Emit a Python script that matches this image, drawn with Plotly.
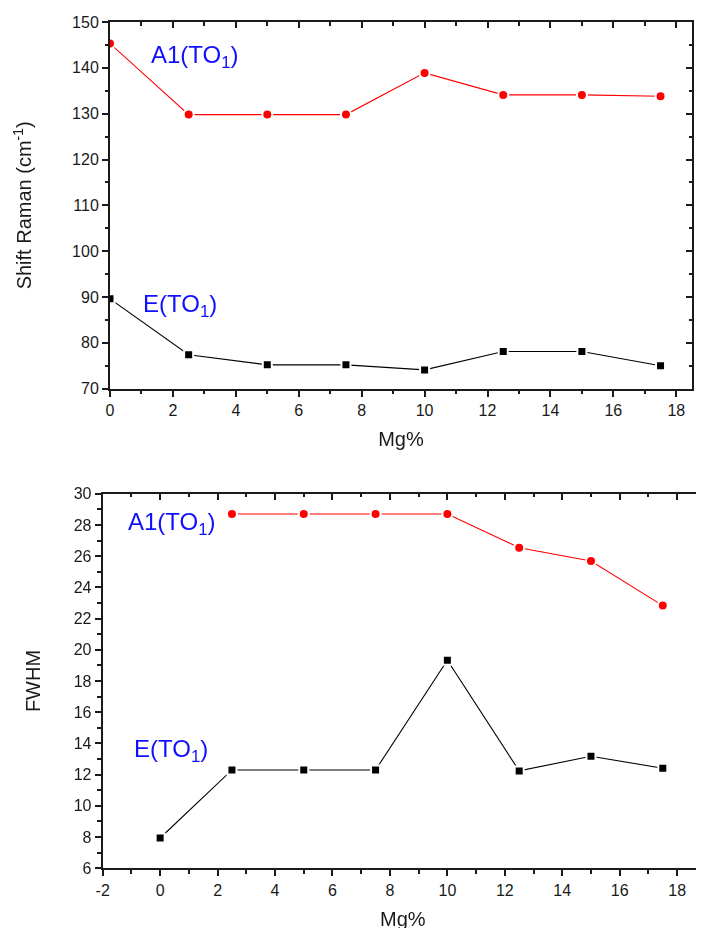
import plotly.graph_objects as go

mg = [0, 2.5, 5, 7.5, 10, 12.5, 15, 17.5]
shift_a1 = [145.3, 129.8, 129.8, 129.8, 138.9, 134.1, 134.1, 133.8]
shift_e = [89.6, 77.4, 75.2, 75.2, 74.1, 78.1, 78.1, 75.0]
mg_fwhm_a1 = [2.5, 5, 7.5, 10, 12.5, 15, 17.5]
fwhm_a1 = [28.7, 28.7, 28.7, 28.7, 26.54, 25.69, 22.83]
fwhm_e = [7.94, 12.3, 12.3, 12.3, 19.33, 12.24, 13.18, 12.41]

bottom_x_ticks = [-2, 0, 2, 4, 6, 8, 10, 12, 14, 16, 18]
bottom_x_labels = ["-2", "0", "2", "4", "6", "8", "10", "12", "14", "16", "18"]

FONT = "Liberation Sans, Arial, sans-serif"
AX = "#1a1a1a"
BLUE = "#1010ff"

fig = go.Figure()

def add(x, y, color, symbol, xa, ya):
    fig.add_trace(go.Scatter(
        x=x, y=y, mode="lines+markers", xaxis=xa, yaxis=ya,
        line=dict(color=color, width=1.1),
        marker=dict(color=color, symbol=symbol, size=10 if symbol == "circle" else 9,
                    line=dict(color="white", width=2)),
        showlegend=False, hoverinfo="skip"))

add(mg, shift_a1, "#ff0000", "circle", "x", "y")
add(mg, shift_e, "#000000", "square", "x", "y")
add(mg_fwhm_a1, fwhm_a1, "#ff0000", "circle", "x2", "y2")
add(mg, fwhm_e, "#000000", "square", "x2", "y2")

W, H, OFF = 704, 928, 8
top_x = [(110-OFF)/W, (692-OFF)/W]
top_y = [1-(388.7-OFF)/H, 1-(22-OFF)/H]
bot_x = [(102.7-OFF)/W, (703-OFF)/W]
bot_y = [1-(868.3-OFF)/H, 1-(493.7-OFF)/H]

tickfont = dict(family=FONT, size=16, color=AX)
titlefont = dict(family=FONT, size=20, color=AX)

def minor(kind):
    return dict(ticks=kind, ticklen=3.5, tickwidth=1.5, tickcolor=AX)

def base_axis(**kw):
    d = dict(showline=True, linecolor=AX, linewidth=2, ticks="outside",
             ticklen=6, tickwidth=1.5, tickcolor=AX, showgrid=False,
             zeroline=False, tickfont=tickfont, automargin=False)
    d.update(kw)
    return d

def mirror_axis(**kw):
    d = dict(showline=True, linecolor=AX, linewidth=2, ticks="inside",
             ticklen=6, tickwidth=1.5, tickcolor=AX, showgrid=False,
             zeroline=False, showticklabels=False, automargin=False)
    d.update(kw)
    return d

mt = minor("outside")
mi = minor("inside")

fig.update_layout(
    width=W, height=H, margin=dict(l=0, r=0, t=0, b=0),
    plot_bgcolor="white", paper_bgcolor="white",
    xaxis=base_axis(domain=top_x, anchor="y", range=[0, 18.5], dtick=2, tick0=0,
                    minor=dict(dtick=1, **mt),
                    title=dict(text="Mg%", font=titlefont, standoff=14)),
    yaxis=base_axis(domain=top_y, anchor="x", range=[70, 150], dtick=10,
                    minor=dict(dtick=5, **mt),
                    title=dict(text="Shift Raman (cm<sup>-1</sup>)", font=titlefont, standoff=35)),
    xaxis3=mirror_axis(domain=top_x, anchor="y", overlaying="x", side="top",
                       range=[0, 18.5], dtick=2, tick0=0, minor=dict(dtick=1, **mi)),
    yaxis3=mirror_axis(domain=top_y, anchor="x", overlaying="y", side="right",
                       range=[70, 150], dtick=10, minor=dict(dtick=5, **mi)),
    xaxis2=base_axis(domain=bot_x, anchor="y2", range=[-2, 18.9],
                     tickmode="array", tickvals=bottom_x_ticks, ticktext=bottom_x_labels,
                     minor=dict(dtick=1, tick0=0, **mt),
                     title=dict(text="Mg%", font=titlefont, standoff=14)),
    yaxis2=base_axis(domain=bot_y, anchor="x2", range=[6, 30], dtick=2,
                     minor=dict(dtick=1, **mt),
                     title=dict(text="FWHM", font=titlefont, standoff=28)),
    xaxis4=mirror_axis(domain=bot_x, anchor="y2", overlaying="x2", side="top",
                       range=[-2, 18.9], dtick=2, tick0=0, minor=dict(dtick=1, **mi)),
    yaxis4=mirror_axis(domain=bot_y, anchor="x2", overlaying="y2", side="right",
                       range=[6, 30], dtick=2, minor=dict(dtick=1, **mi)),
)

# invisible traces to activate mirror axes
fig.add_trace(go.Scatter(x=mg, y=shift_a1, xaxis="x3", yaxis="y3", mode="markers",
                         opacity=0, showlegend=False, hoverinfo="skip"))
fig.add_trace(go.Scatter(x=mg, y=fwhm_e, xaxis="x4", yaxis="y4", mode="markers",
                         opacity=0, showlegend=False, hoverinfo="skip"))

annfont = dict(family=FONT, size=24, color=BLUE)
labels = ["A1(TO<sub>1</sub>)", "E(TO<sub>1</sub>)", "A1(TO<sub>1</sub>)", "E(TO<sub>1</sub>)"]
lab_x = [1.25, 1.0, -1.2, -0.99]
lab_y = [142.4, 88.2, 28.1, 13.55]
lab_ref = [("x", "y"), ("x", "y"), ("x2", "y2"), ("x2", "y2")]
for t, x, y, (xr, yr) in zip(labels, lab_x, lab_y, lab_ref):
    fig.add_annotation(text=t, x=x, y=y, xref=xr, yref=yr, xanchor="left",
                       yanchor="middle", showarrow=False, font=annfont)

fig.write_html("out.html")
